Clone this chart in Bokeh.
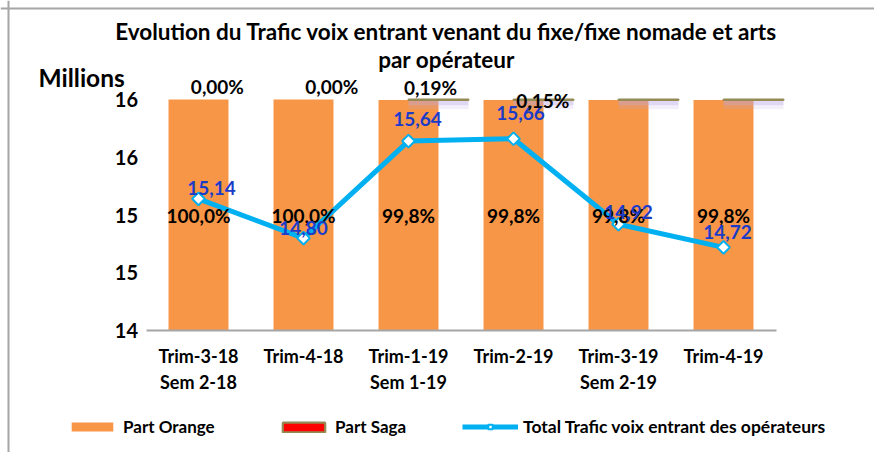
from math import pi
from bokeh.plotting import figure
from bokeh.models import Range1d, FixedTicker, Label, Legend, LegendItem, ColumnDataSource, Span
from bokeh.core.properties import value
from bokeh.embed import file_html
from bokeh.resources import INLINE

# ---------------- data ----------------
periods = ["Trim-3-18\nSem 2-18", "Trim-4-18", "Trim-1-19\nSem 1-19",
           "Trim-2-19", "Trim-3-19\nSem 2-19", "Trim-4-19"]
part_orange = [100.0, 100.0, 99.8, 99.8, 99.8, 99.8]
part_saga = [0.00, 0.00, 0.19, 0.15, 0.20, 0.20]
total_trafic = [15.14, 14.80, 15.64, 15.66, 14.92, 14.72]
orange_labels = ["100,0%", "100,0%", "99,8%", "99,8%", "99,8%", "99,8%"]
saga_labels = ["0,00%", "0,00%", "0,19%", "0,15%"]
total_labels = ["15,14", "14,80", "15,64", "15,66", "14,92", "14,72"]
y_ticks = [14, 14.5, 15, 15.5, 16]
y_tick_labels = ["14", "15", "15", "16", "16"]

# ---------------- layout / style ----------------
W, H = 874, 452
PX_CAT0, PX_PER_CAT = 198, 105        # pixel of first category, pixels per category
PX_Y14, PX_PER_M = 330, 115.5         # pixel of 14 M, pixels per million
PX_PER_PCT = 2.31                     # pixels per percent (0 % at 14 M line, 100 % at 16 M line)


def xd(px):
    return (px - PX_CAT0) / PX_PER_CAT


def yd(py):
    return 14 + (PX_Y14 - py) / PX_PER_M


FONT = "Lato"
ORANGE = "#F79646"
OLIVE = "#948A54"
LINE = "#00B0F0"
BLUE = "#1A3CC8"
BAR_W = 0.571
SAGA_SHIFT = 0.286
total_dx = [13, 0, 9, 7, 10, 4]
total_dy = [11, 10, 22, 26, 12, 15]
saga_label_dx = [0.18, 0.27, 0.21, 0.28]
saga_label_y = [105.6, 105.6, 105.2, 99.6]

x = list(range(len(periods)))

p = figure(width=W, height=H, x_range=Range1d(xd(0), xd(W)), y_range=Range1d(yd(H), yd(0)),
           output_backend="svg", toolbar_location=None,
           min_border_left=0, min_border_right=0, min_border_top=0, min_border_bottom=0)
p.extra_y_ranges = {"pct": Range1d(-(H - PX_Y14) / PX_PER_PCT, PX_Y14 / PX_PER_PCT)}
p.grid.visible = False
p.outline_line_color = None
p.background_fill_color = "white"
p.border_fill_color = "white"

# chart border (left and top)
p.add_layout(Span(location=xd(8), dimension="height", line_color="#A6A6A6", line_width=2))
p.add_layout(Span(location=yd(8), dimension="width", line_color="#A6A6A6", line_width=2))

# ---- stacked percentage bars (hidden secondary scale) ----
r_orange = p.vbar(x=x, top=part_orange, bottom=0, width=BAR_W, fill_color=ORANGE,
                  line_color=None, y_range_name="pct")

sx = [xi + SAGA_SHIFT for xi, s in zip(x, part_saga) if s > 0]
s_bot = [o for o, s in zip(part_orange, part_saga) if s > 0]
s_top = [o + s for o, s in zip(part_orange, part_saga) if s > 0]
# soft shadow under the Saga segment
p.vbar(x=sx, top=[b - 0.3 for b in s_bot], bottom=[b - 2.3 for b in s_bot], width=BAR_W,
       fill_color="#B9A6E6", fill_alpha=0.45, line_color=None, y_range_name="pct")
p.vbar(x=sx, top=[b - 2.3 for b in s_bot], bottom=[b - 4.0 for b in s_bot], width=BAR_W,
       fill_color="#B9A6E6", fill_alpha=0.18, line_color=None, y_range_name="pct")
r_saga = p.vbar(x=sx, top=s_top, bottom=s_bot, width=BAR_W, fill_color="#FF0000",
                line_color=OLIVE, line_width=2.2, y_range_name="pct")

# ---- total traffic line ----
r_line = p.line(x, total_trafic, line_color=LINE, line_width=5)
r_pts = p.scatter(x, total_trafic, marker="square", angle=pi / 4, size=9,
                  fill_color="white", line_color=LINE, line_width=2)

# ---- labels ----
lab_src = ColumnDataSource(dict(x=x, y=[o / 2 for o in part_orange], t=orange_labels))
p.text(x="x", y="y", text="t", source=lab_src, y_range_name="pct",
       text_align="center", text_baseline="middle", text_font=value(FONT),
       text_font_style="bold", text_font_size="19px", text_color="black")

tot_src = ColumnDataSource(dict(x=x, y=total_trafic, t=total_labels,
                                dx=total_dx, dy=[-d for d in total_dy]))
p.text(x="x", y="y", text="t", source=tot_src, x_offset="dx", y_offset="dy",
       text_align="center", text_baseline="middle", text_font=value(FONT),
       text_font_style="bold", text_font_size="19px", text_color=BLUE)

for i, t in enumerate(saga_labels):
    p.add_layout(Label(x=x[i] + saga_label_dx[i], y=saga_label_y[i], y_range_name="pct",
                       text=t, text_align="center", text_baseline="middle",
                       text_font=FONT, text_font_style="bold",
                       text_font_size="19px", text_color="black"))

# ---- title and unit ----
p.add_layout(Label(x=xd(446), y=yd(31),
                   text="Evolution du Trafic voix entrant venant du fixe/fixe nomade et arts",
                   text_align="center", text_baseline="middle", text_font=FONT,
                   text_font_style="bold", text_font_size="22.5px", text_color="black"))
p.add_layout(Label(x=xd(446), y=yd(59),
                   text="par opérateur", text_align="center", text_baseline="middle",
                   text_font=FONT, text_font_style="bold", text_font_size="22.5px",
                   text_color="black"))
p.add_layout(Label(x=xd(38), y=yd(77),
                   text="Millions", text_align="left", text_baseline="middle",
                   text_font=FONT, text_font_style="bold", text_font_size="24.5px",
                   text_color="black"))

# ---- axes (drawn at fixed locations inside the canvas) ----
p.yaxis.fixed_location = -0.5
p.yaxis.ticker = FixedTicker(ticks=y_ticks)
p.yaxis.major_label_overrides = {t: l for t, l in zip(y_ticks, y_tick_labels)}
p.yaxis.axis_line_color = None
p.yaxis.major_tick_line_color = None
p.yaxis.minor_tick_line_color = None
p.yaxis.major_label_standoff = 2
p.yaxis.major_label_text_font = FONT
p.yaxis.major_label_text_font_style = "bold"
p.yaxis.major_label_text_font_size = "20px"
p.yaxis.major_label_text_color = "black"

p.xaxis.fixed_location = 14
p.xaxis.bounds = (-0.5, len(periods) - 0.5)
p.xaxis.ticker = FixedTicker(ticks=x)
p.xaxis.major_label_overrides = {i: l for i, l in zip(x, periods)}
p.xaxis.axis_line_color = "#A6A6A6"
p.xaxis.axis_line_width = 2
p.xaxis.major_tick_line_color = None
p.xaxis.minor_tick_line_color = None
p.xaxis.major_label_standoff = 8
p.xaxis.major_label_text_font = FONT
p.xaxis.major_label_text_font_style = "bold"
p.xaxis.major_label_text_font_size = "18px"
p.xaxis.major_label_text_color = "black"


# ---- legends ----
def make_legend(label, renderers, px_left, gw, gh, fs):
    leg = Legend(items=[LegendItem(label=label, renderers=renderers)],
                 location=(px_left, H - 437),
                 orientation="horizontal", glyph_width=gw, glyph_height=gh,
                 label_standoff=5, padding=0, margin=0, spacing=0,
                 border_line_color=None, background_fill_alpha=0,
                 label_text_font=FONT, label_text_font_style="bold",
                 label_text_font_size=fs, label_text_color="black",
                 label_height=21)
    p.add_layout(leg)


make_legend("Part Orange", [r_orange], 66, 52, 11, "17px")
make_legend("Part Saga", [r_saga], 277, 53, 12, "17px")
make_legend("Total Trafic voix entrant des opérateurs", [r_line, r_pts], 462, 56, 11, "17.5px")

open("out.html", "w").write(file_html(p, INLINE))
